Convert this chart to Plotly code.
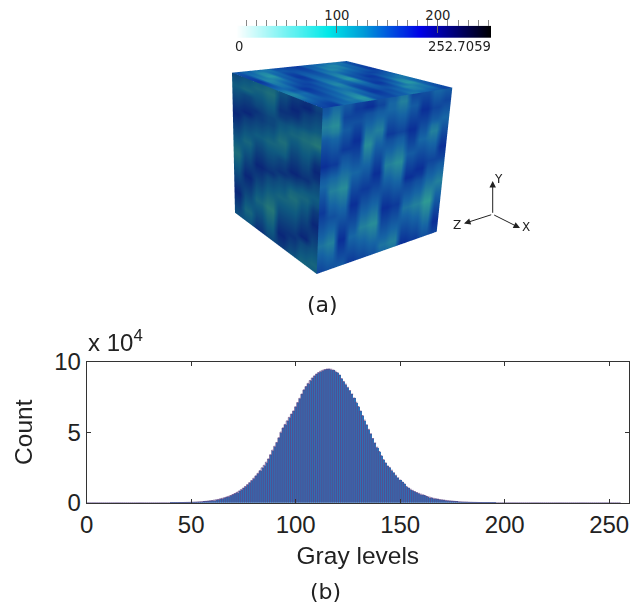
import plotly.graph_objects as go

W, H = 640, 608

gray_levels = list(range(256))
counts_e4 = [0]*40 + [
 .005,.006,.007,.008,.01,.012,.014,.017,.02,.024,
 .03,.035,.04,.05,.06,.07,.08,.095,.11,.13,
 .15,.175,.2,.23,.27,.31,.35,.40,.45,.51,
 .58,.65,.73,.82,.92,1.03,1.15,1.28,1.42,1.57,
 1.73,1.90,2.08,2.27,2.47,2.65,2.87,3.10,3.40,3.72,
 4.0,4.27,4.6,5.0,5.3,5.55,5.8,6.05,6.28,6.5,
 6.8,7.1,7.4,7.7,8.0,8.24,8.46,8.66,8.84,8.99,
 9.12,9.23,9.32,9.39,9.44,9.47,9.48,9.46,9.40,9.32,
 9.22,9.05,8.8,8.6,8.4,8.18,7.95,7.7,7.42,7.12,
 6.82,6.5,6.18,5.85,5.52,5.2,4.88,4.55,4.23,3.93,
 3.63,3.33,3.05,2.82,2.6,2.5,2.3,2.12,1.94,1.76,
 1.6,1.46,1.33,1.15,1.04,.95,.87,.79,.72,.66,
 .6,.55,.5,.44,.39,.35,.31,.28,.25,.22,
 .2,.18,.16,.14,.125,.11,.095,.08,.07,.06,
 .05,.045,.04,.03,.027,.023,.02,.017,.014,.012,
 .01,.009,.008,.007,.006,.005] + [0]*60
hist_counts = [round(v*1e4) for v in counts_e4]

ramp_levels = list(range(0, 253, 3))
hist_xticks = [0, 50, 100, 150, 200, 250]
hist_yticks = [0, 50000, 100000]
hist_yticklabels = ["0", "5", "10"]
cbar_ticks = [0, 100, 200]
cbar_ticklabels = ["", "100", "200"]

# Cube face brightness, one digit per cell
# (0 = lightest teal patch, 9 = darkest blue spot)
right_face_rows = [
 "664455778866553377664455",
 "553366889977442266775566",
 "332277776655443355886677",
 "221166665544554466997766",
 "332255774433665577886655",
 "554466883322776688775544",
 "665577992233887799663355",
 "776688881144665588552266",
 "887766772255554477443377",
 "998855663366443366554488",
 "776644554477332255665599",
 "554433445588221166776688",
 "443322556699332277887777",
 "552211667788443388996655",
 "663322778877554499885544",
 "774433887766665577664433",
 "885544996655776666553322",
 "776655885544887755442233",
 "665566774433998844331144",
 "554477663322887733220055",
 "443388552211776644331166",
 "332299443322665555442277",
 "443388554433554466553388",
 "554477665544443377664499",
 "665566776655332288775588",
 "776655887766443399886677",
]
left_face_rows = [
 "6655443355778866",
 "5544332266889977",
 "4433443377997766",
 "5566554488886655",
 "6677665577665544",
 "7788876655443322",
 "8899776644332211",
 "9977665533443344",
 "8866554422554466",
 "7755443333665588",
 "6644554444776699",
 "5533665566887788",
 "4444776677998866",
 "3355887788776655",
 "2266998866554444",
 "3377886655333355",
 "4488775544224477",
 "5599664433335588",
 "6688553344446699",
 "7777442255557788",
 "8866331166668877",
 "9955442277779966",
 "8844553388886655",
 "7733664499775544",
 "6644775588664433",
 "5555886677553344",
]
top_face_rows = [
 "665544337788996655443366",
 "774422446677885533224477",
 "883311558866774422335588",
 "992233669955663344556699",
 "773355778844552266778877",
 "554477886633441177996655",
 "336699775522553388884433",
 "224488664433775599662244",
 "335577553344886677441155",
 "556666442255997755223366",
 "778855331166886644334477",
 "889944442277775533556688",
]
gray_base, gray_step = 85, 7

# cube face corners in page pixels
A, B, C, D = (232.0, 72.7), (346.7, 61.0), (452.3, 87.7), (322.7, 108.3)
E, F, G = (235.0, 212.7), (316.7, 274.0), (436.7, 231.7)


def to_grid(rows):
    return [[gray_base + gray_step*int(ch) for ch in row] for row in rows]


def warp(grid, tl, tr, bl, br):
    nr, nc = len(grid), len(grid[0])
    xs, ys = [], []
    for r in range(nr):
        v = r / (nr - 1)
        rx, ry = [], []
        for c in range(nc):
            u = c / (nc - 1)
            px = (1-v)*((1-u)*tl[0]+u*tr[0]) + v*((1-u)*bl[0]+u*br[0])
            py = (1-v)*((1-u)*tl[1]+u*tr[1]) + v*((1-u)*bl[1]+u*br[1])
            rx.append(px)
            ry.append(H - py)
        xs.append(rx)
        ys.append(ry)
    return xs, ys


def face(rows, corners, scale):
    grid = to_grid(rows)
    xs, ys = warp(grid, *corners)
    return go.Surface(
        x=xs, y=ys, z=[[0]*len(grid[0]) for _ in grid], surfacecolor=grid,
        cmin=85, cmax=150, colorscale=scale, showscale=False, hoverinfo="skip",
        lighting=dict(ambient=1, diffuse=0, specular=0, roughness=1, fresnel=0),
        contours=dict(x=dict(highlight=False), y=dict(highlight=False), z=dict(highlight=False)),
    )


fig = go.Figure()
fig.add_trace(face(left_face_rows, (A, D, E, F),
                   [[0, "#2c8074"], [.45, "#0f5a80"], [1, "#0a2478"]]))
fig.add_trace(face(right_face_rows, (D, C, F, G),
                   [[0, "#2f9a94"], [.45, "#1664a4"], [1, "#0a2c96"]]))
fig.add_trace(face(top_face_rows, (A, B, D, C),
                   [[0, "#2ea5a2"], [.45, "#146aad"], [1, "#0b35a0"]]))

fig.add_trace(go.Bar(
    x=gray_levels, y=hist_counts, width=1, xaxis="x", yaxis="y",
    marker=dict(color="#2f6fb5", line=dict(width=0)),
    hoverinfo="skip", showlegend=False))

# bar edges as antialiased lines, taken from the same counts
edge_x, edge_y = [], []
for g, c in zip(gray_levels, hist_counts):
    edge_x += [g - .5, g - .5, g + .5, None]
    edge_y += [0, c, c, None]
fig.add_trace(go.Scatter(x=edge_x, y=edge_y, mode="lines", xaxis="x", yaxis="y",
                         line=dict(color="#5c4585", width=0.8), hoverinfo="skip", showlegend=False))

fig.add_trace(go.Heatmap(
    z=[ramp_levels], x=ramp_levels, y=[0], xaxis="x2", yaxis="y2", zsmooth="best",
    zmin=0, zmax=252.7, showscale=False, hoverinfo="skip",
    colorscale=[[0, "#ffffff"], [.36, "#00e8e8"], [.5, "#009ad8"], [.72, "#0000e6"], [1, "#000000"]]))

axis_font = dict(family="Liberation Sans", size=24, color="#222222")
title_font = dict(family="Liberation Sans", size=24.5, color="#222222")
small_font = dict(family="DejaVu Sans", size=13.2, color="#222222")
tri_font = dict(family="DejaVu Sans", size=12, color="#222222")
cap_font = dict(family="DejaVu Sans", size=22, color="#222222")


def ann(text, x, y, font, **kw):
    return dict(text=text, x=x/W, y=1-y/H, xref="paper", yref="paper", showarrow=False,
                xanchor="center", yanchor="middle", font=font, **kw)


def arrow(x, y, ox, oy):
    return dict(x=x/W, y=1-y/H, xref="paper", yref="paper", ax=ox-x, ay=oy-y,
                axref="pixel", ayref="pixel", text="", showarrow=True, arrowhead=2,
                arrowsize=1.3, arrowwidth=1, arrowcolor="#222222")


ox, oy = 492.7, 214.3
annotations = [
    ann("0", 239, 47, small_font),
    ann("252.7059", 459.5, 47, small_font),
    ann("(a)", 322, 304, cap_font),
    ann("(b)", 325, 591, cap_font),
    ann("x 10<sup>4</sup>", 115, 341, axis_font),
    ann("Y", 498, 179, tri_font),
    ann("X", 526, 227, tri_font),
    ann("Z", 457, 225, tri_font),
    arrow(ox, 181, ox, oy), arrow(520, 228, ox, oy), arrow(464, 223.5, ox, oy),
]

fig.update_layout(
    width=W, height=H, margin=dict(l=0, r=0, t=0, b=0, autoexpand=False),
    paper_bgcolor="white", plot_bgcolor="white", showlegend=False, bargap=0,
    annotations=annotations,
    scene=dict(
        domain=dict(x=[0, 1], y=[0, 1]),
        xaxis=dict(visible=False, range=[0, W]),
        yaxis=dict(visible=False, range=[0, H]),
        zaxis=dict(visible=False, range=[-1, 1]),
        aspectmode="manual", aspectratio=dict(x=2*W/H, y=2, z=0.05),
        camera=dict(eye=dict(x=0, y=0, z=1), up=dict(x=0, y=1, z=0),
                    center=dict(x=0, y=0, z=0),
                    projection=dict(type="orthographic")),
        bgcolor="rgba(0,0,0,0)", dragmode=False),
    xaxis=dict(domain=[86.7/W, 629/W], range=[0, 259.5], tickvals=hist_xticks, automargin=False,
               ticks="inside", ticklen=4, tickcolor="#333333", mirror="ticks", showline=True,
               linecolor="#333333", linewidth=1, showgrid=False, zeroline=False, tickfont=axis_font,
               title=dict(text="Gray levels", font=title_font, standoff=10)),
    yaxis=dict(domain=[1-502.7/H, 1-361.7/H], range=[0, 100000], tickvals=hist_yticks, automargin=False,
               ticktext=hist_yticklabels, ticks="inside", ticklen=4, tickcolor="#333333",
               mirror="ticks", showline=True, linecolor="#333333", linewidth=1, showgrid=False,
               zeroline=False, tickfont=axis_font,
               title=dict(text="Count", font=title_font, standoff=14)),
    xaxis2=dict(domain=[236/W, 491/W], range=[0, 252.7], anchor="free", automargin=False,
                position=1-19/H, side="top", tickvals=cbar_ticks, ticktext=cbar_ticklabels,
                ticks="inside", ticklen=13, tickcolor="#666666", tickwidth=1, ticklabelstandoff=-4,
                minor=dict(dtick=10, tick0=0, ticks="inside", ticklen=6, tickcolor="#888888"),
                showline=False, showgrid=False, zeroline=False, tickfont=small_font),
    yaxis2=dict(domain=[1-38/H, 1-25.7/H], anchor="x2", visible=False, range=[-0.5, 0.5], automargin=False),
)

fig.write_html("out.html", config=dict(displayModeBar=False),
               post_script="document.body.style.margin='0';")
